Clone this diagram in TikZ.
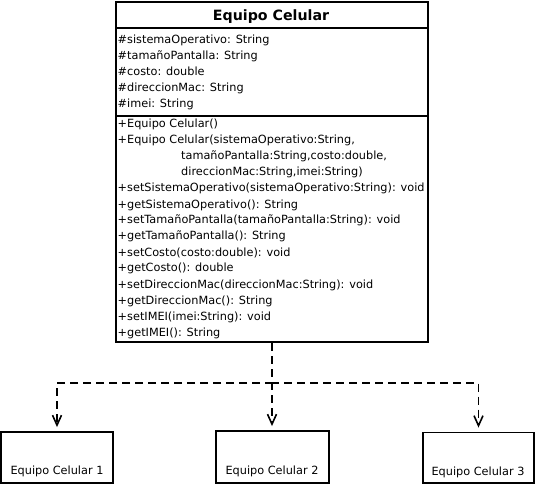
\documentclass[tikz,border=0pt]{standalone}
\usepackage{fontspec}
\setmainfont{DejaVu Sans}
\usetikzlibrary{arrows.meta,calc}
\begin{document}
\begin{tikzpicture}[x=1pt,y=1pt,
  frame/.style={draw=black, line width=2pt, inner sep=0pt},
  sep/.style={draw=black, line width=1.6pt},
  txt/.style={anchor=base west, inner sep=0pt, font=\fontsize{11.3}{13}\selectfont},
  inst/.style={draw=black, line width=1.8pt, inner sep=0pt},
  insttxt/.style={anchor=base, inner sep=0pt, font=\fontsize{11.3}{13}\selectfont},
  dep/.style={draw=black, line width=1.8pt, dash pattern=on 8pt off 5pt,
    -{Straight Barb[length=10pt,width=9pt,line width=1.6pt]}}]
\useasboundingbox (0,0) rectangle (536,-484);
% main class box
\node[frame, minimum width=312pt, minimum height=340pt, anchor=north west] (main) at (115,-1) {};
\node[anchor=base, inner sep=0pt, font=\bfseries\fontsize{14.2}{16}\selectfont] (title) at (271,-21) {Equipo Celular};
\coordinate (s1) at (115,-28);
\coordinate (s2) at (115,-116);
\draw[sep] (main.west |- s1) -- (main.east |- s1);
\draw[sep] (main.west |- s2) -- (main.east |- s2);
% attributes
\foreach \t [count=\i from 0] in {%
  {\#sistemaOperativo: String},
  {\#tamañoPantalla: String},
  {\#costo: double},
  {\#direccionMac: String},
  {\#imei: String}}
  \node[txt] (attr\i) at (117.5,-44-16*\i) {\t};
% methods
\node[txt] (m0) at (117.5,-128) {+Equipo Celular()};
\node[txt] (m1) at (117.5,-144) {+Equipo Celular(sistemaOperativo:String,};
\node[txt] (m2) at (181,-160) {tamañoPantalla:String,costo:double,};
\node[txt] (m3) at (181,-176) {direccionMac:String,imei:String)};
\foreach \t [count=\i from 4] in {%
  {+setSistemaOperativo(sistemaOperativo:String): void},
  {+getSistemaOperativo(): String},
  {+setTamañoPantalla(tamañoPantalla:String): void},
  {+getTamañoPantalla(): String},
  {+setCosto(costo:double): void},
  {+getCosto(): double},
  {+setDireccionMac(direccionMac:String): void},
  {+getDireccionMac(): String},
  {+setIMEI(imei:String): void},
  {+getIMEI(): String}}
  \node[txt] (m\i) at (117.5,-128-16*\i) {\t};
% instances
\node[inst, minimum width=112pt, minimum height=51pt] (b1) at (57,-457.5) {};
\node[inst, minimum width=113pt, minimum height=52pt] (b2) at (272.5,-457) {};
\node[inst, minimum width=111pt, minimum height=50.5pt] (b3) at (478.5,-457.75) {};
\node[insttxt] (t1) at (57,-474) {Equipo Celular 1};
\node[insttxt] (t2) at (272,-474) {Equipo Celular 2};
\node[insttxt] (t3) at (478,-475) {Equipo Celular 3};
% connectors
\coordinate (j) at ($(main.south)+(0,-40)$);
\draw[dep] (main.south) -- (j) -| ($(b1.north)+(0,4)$);
\draw[dep] (main.south) -- ($(main.south |- b2.north)+(0,4)$);
\draw[dep] (main.south) -- (j) -| ($(b3.north)+(0,4)$);
\end{tikzpicture}
\end{document}
